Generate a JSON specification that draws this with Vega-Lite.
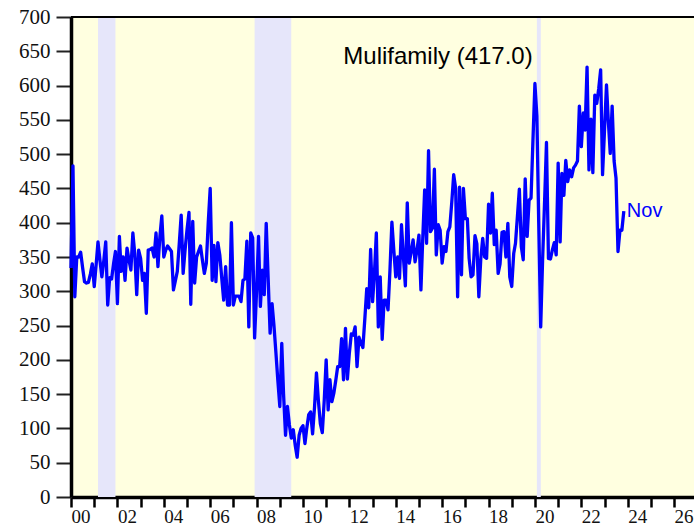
{
  "$schema": "https://vega.github.io/schema/vega-lite/v6.json",
  "width": 623,
  "height": 480,
  "autosize": {"type": "none"},
  "padding": {"left": 71, "top": 17, "right": 0, "bottom": 32},
  "background": "white",
  "config": {
    "view": {"fill": "#FFFFE0", "stroke": null},
    "axisX": {
      "grid": false, "domainColor": "#000000", "domainWidth": 3.5,
      "tickColor": "#000000", "tickWidth": 2.5, "tickSize": 10,
      "labelFont": "Liberation Serif", "labelFontSize": 19, "labelColor": "#111111",
      "labelAlign": "left", "labelBaseline": "top", "labelPadding": 0, "labelOffset": 0,
      "labelOverlap": false, "labelFlush": false, "labelBound": false
    },
    "axisY": {
      "grid": false, "domainColor": "#000000", "domainWidth": 3.5,
      "tickColor": "#222222", "tickWidth": 2, "tickSize": 15,
      "labelFont": "Liberation Serif", "labelFontSize": 21, "labelColor": "#111111",
      "labelPadding": 6, "labelOverlap": false, "labelFlush": false, "labelBound": false
    }
  },
  "datasets": {
    "rec": [
      {"s": "2001-03-01", "e": "2001-12-01"},
      {"s": "2007-12-01", "e": "2009-06-30"},
      {"s": "2020-02-01", "e": "2020-04-03"}
    ],
    "starts": [
      {"d":"2000-01-01","v":334},{"d":"2000-02-01","v":483},{"d":"2000-03-01","v":292},{"d":"2000-04-01","v":350},{"d":"2000-05-01","v":350},{"d":"2000-06-01","v":357},{"d":"2000-07-01","v":335},{"d":"2000-08-01","v":314},{"d":"2000-09-01","v":312},{"d":"2000-10-01","v":313},{"d":"2000-11-01","v":325},{"d":"2000-12-01","v":340},
      {"d":"2001-01-01","v":307},{"d":"2001-02-01","v":340},{"d":"2001-03-01","v":372},{"d":"2001-04-01","v":345},{"d":"2001-05-01","v":321},{"d":"2001-06-01","v":345},{"d":"2001-07-01","v":372},{"d":"2001-08-01","v":280},{"d":"2001-09-01","v":320},{"d":"2001-10-01","v":318},{"d":"2001-11-01","v":340},{"d":"2001-12-01","v":358},
      {"d":"2002-01-01","v":282},{"d":"2002-02-01","v":380},{"d":"2002-03-01","v":329},{"d":"2002-04-01","v":350},{"d":"2002-05-01","v":316},{"d":"2002-06-01","v":363},{"d":"2002-07-01","v":346},{"d":"2002-08-01","v":331},{"d":"2002-09-01","v":385},{"d":"2002-10-01","v":355},{"d":"2002-11-01","v":295},{"d":"2002-12-01","v":360},
      {"d":"2003-01-01","v":348},{"d":"2003-02-01","v":316},{"d":"2003-03-01","v":326},{"d":"2003-04-01","v":268},{"d":"2003-05-01","v":360},{"d":"2003-06-01","v":361},{"d":"2003-07-01","v":363},{"d":"2003-08-01","v":350},{"d":"2003-09-01","v":385},{"d":"2003-10-01","v":336},{"d":"2003-11-01","v":380},{"d":"2003-12-01","v":410},
      {"d":"2004-01-01","v":350},{"d":"2004-02-01","v":360},{"d":"2004-03-01","v":366},{"d":"2004-04-01","v":362},{"d":"2004-05-01","v":358},{"d":"2004-06-01","v":302},{"d":"2004-07-01","v":315},{"d":"2004-08-01","v":329},{"d":"2004-09-01","v":370},{"d":"2004-10-01","v":411},{"d":"2004-11-01","v":326},{"d":"2004-12-01","v":360},
      {"d":"2005-01-01","v":390},{"d":"2005-02-01","v":415},{"d":"2005-03-01","v":281},{"d":"2005-04-01","v":402},{"d":"2005-05-01","v":312},{"d":"2005-06-01","v":350},{"d":"2005-07-01","v":358},{"d":"2005-08-01","v":366},{"d":"2005-09-01","v":345},{"d":"2005-10-01","v":326},{"d":"2005-11-01","v":341},{"d":"2005-12-01","v":400},
      {"d":"2006-01-01","v":450},{"d":"2006-02-01","v":316},{"d":"2006-03-01","v":367},{"d":"2006-04-01","v":314},{"d":"2006-05-01","v":371},{"d":"2006-06-01","v":353},{"d":"2006-07-01","v":320},{"d":"2006-08-01","v":287},{"d":"2006-09-01","v":336},{"d":"2006-10-01","v":280},{"d":"2006-11-01","v":280},{"d":"2006-12-01","v":400},
      {"d":"2007-01-01","v":280},{"d":"2007-02-01","v":293},{"d":"2007-03-01","v":293},{"d":"2007-04-01","v":293},{"d":"2007-05-01","v":285},{"d":"2007-06-01","v":316},{"d":"2007-07-01","v":318},{"d":"2007-08-01","v":373},{"d":"2007-09-01","v":248},{"d":"2007-10-01","v":385},{"d":"2007-11-01","v":378},{"d":"2007-12-01","v":232},
      {"d":"2008-01-01","v":300},{"d":"2008-02-01","v":380},{"d":"2008-03-01","v":278},{"d":"2008-04-01","v":331},{"d":"2008-05-01","v":295},{"d":"2008-06-01","v":399},{"d":"2008-07-01","v":320},{"d":"2008-08-01","v":239},{"d":"2008-09-01","v":282},{"d":"2008-10-01","v":250},{"d":"2008-11-01","v":210},{"d":"2008-12-01","v":170},
      {"d":"2009-01-01","v":132},{"d":"2009-02-01","v":224},{"d":"2009-03-01","v":150},{"d":"2009-04-01","v":90},{"d":"2009-05-01","v":132},{"d":"2009-06-01","v":105},{"d":"2009-07-01","v":86},{"d":"2009-08-01","v":98},{"d":"2009-09-01","v":75},{"d":"2009-10-01","v":58},{"d":"2009-11-01","v":90},{"d":"2009-12-01","v":100},
      {"d":"2010-01-01","v":104},{"d":"2010-02-01","v":78},{"d":"2010-03-01","v":100},{"d":"2010-04-01","v":120},{"d":"2010-05-01","v":124},{"d":"2010-06-01","v":92},{"d":"2010-07-01","v":130},{"d":"2010-08-01","v":181},{"d":"2010-09-01","v":140},{"d":"2010-10-01","v":107},{"d":"2010-11-01","v":94},{"d":"2010-12-01","v":140},
      {"d":"2011-01-01","v":200},{"d":"2011-02-01","v":127},{"d":"2011-03-01","v":171},{"d":"2011-04-01","v":139},{"d":"2011-05-01","v":151},{"d":"2011-06-01","v":170},{"d":"2011-07-01","v":190},{"d":"2011-08-01","v":190},{"d":"2011-09-01","v":231},{"d":"2011-10-01","v":171},{"d":"2011-11-01","v":246},{"d":"2011-12-01","v":172},
      {"d":"2012-01-01","v":210},{"d":"2012-02-01","v":238},{"d":"2012-03-01","v":236},{"d":"2012-04-01","v":248},{"d":"2012-05-01","v":190},{"d":"2012-06-01","v":233},{"d":"2012-07-01","v":225},{"d":"2012-08-01","v":218},{"d":"2012-09-01","v":260},{"d":"2012-10-01","v":304},{"d":"2012-11-01","v":276},{"d":"2012-12-01","v":361},
      {"d":"2013-01-01","v":285},{"d":"2013-02-01","v":330},{"d":"2013-03-01","v":385},{"d":"2013-04-01","v":248},{"d":"2013-05-01","v":321},{"d":"2013-06-01","v":230},{"d":"2013-07-01","v":287},{"d":"2013-08-01","v":287},{"d":"2013-09-01","v":273},{"d":"2013-10-01","v":330},{"d":"2013-11-01","v":401},{"d":"2013-12-01","v":360},
      {"d":"2014-01-01","v":321},{"d":"2014-02-01","v":350},{"d":"2014-03-01","v":319},{"d":"2014-04-01","v":397},{"d":"2014-05-01","v":350},{"d":"2014-06-01","v":308},{"d":"2014-07-01","v":429},{"d":"2014-08-01","v":341},{"d":"2014-09-01","v":358},{"d":"2014-10-01","v":375},{"d":"2014-11-01","v":343},{"d":"2014-12-01","v":360},
      {"d":"2015-01-01","v":382},{"d":"2015-02-01","v":302},{"d":"2015-03-01","v":375},{"d":"2015-04-01","v":448},{"d":"2015-05-01","v":370},{"d":"2015-06-01","v":505},{"d":"2015-07-01","v":387},{"d":"2015-08-01","v":392},{"d":"2015-09-01","v":478},{"d":"2015-10-01","v":353},{"d":"2015-11-01","v":397},{"d":"2015-12-01","v":389},
      {"d":"2016-01-01","v":341},{"d":"2016-02-01","v":365},{"d":"2016-03-01","v":358},{"d":"2016-04-01","v":387},{"d":"2016-05-01","v":394},{"d":"2016-06-01","v":430},{"d":"2016-07-01","v":470},{"d":"2016-08-01","v":450},{"d":"2016-09-01","v":292},{"d":"2016-10-01","v":452},{"d":"2016-11-01","v":324},{"d":"2016-12-01","v":450},
      {"d":"2017-01-01","v":406},{"d":"2017-02-01","v":406},{"d":"2017-03-01","v":348},{"d":"2017-04-01","v":321},{"d":"2017-05-01","v":324},{"d":"2017-06-01","v":381},{"d":"2017-07-01","v":369},{"d":"2017-08-01","v":292},{"d":"2017-09-01","v":348},{"d":"2017-10-01","v":377},{"d":"2017-11-01","v":350},{"d":"2017-12-01","v":348},
      {"d":"2018-01-01","v":427},{"d":"2018-02-01","v":385},{"d":"2018-03-01","v":443},{"d":"2018-04-01","v":368},{"d":"2018-05-01","v":389},{"d":"2018-06-01","v":326},{"d":"2018-07-01","v":340},{"d":"2018-08-01","v":386},{"d":"2018-09-01","v":387},{"d":"2018-10-01","v":350},{"d":"2018-11-01","v":399},{"d":"2018-12-01","v":321},
      {"d":"2019-01-01","v":307},{"d":"2019-02-01","v":355},{"d":"2019-03-01","v":370},{"d":"2019-04-01","v":410},{"d":"2019-05-01","v":449},{"d":"2019-06-01","v":365},{"d":"2019-07-01","v":346},{"d":"2019-08-01","v":464},{"d":"2019-09-01","v":380},{"d":"2019-10-01","v":433},{"d":"2019-11-01","v":436},{"d":"2019-12-01","v":520},
      {"d":"2020-01-01","v":603},{"d":"2020-02-01","v":555},{"d":"2020-03-01","v":400},{"d":"2020-04-01","v":248},{"d":"2020-05-01","v":346},{"d":"2020-06-01","v":430},{"d":"2020-07-01","v":517},{"d":"2020-08-01","v":348},{"d":"2020-09-01","v":347},{"d":"2020-10-01","v":360},{"d":"2020-11-01","v":371},{"d":"2020-12-01","v":353},
      {"d":"2021-01-01","v":487},{"d":"2021-02-01","v":372},{"d":"2021-03-01","v":472},{"d":"2021-04-01","v":440},{"d":"2021-05-01","v":491},{"d":"2021-06-01","v":460},{"d":"2021-07-01","v":477},{"d":"2021-08-01","v":467},{"d":"2021-09-01","v":480},{"d":"2021-10-01","v":484},{"d":"2021-11-01","v":490},{"d":"2021-12-01","v":570},
      {"d":"2022-01-01","v":511},{"d":"2022-02-01","v":560},{"d":"2022-03-01","v":535},{"d":"2022-04-01","v":627},{"d":"2022-05-01","v":477},{"d":"2022-06-01","v":551},{"d":"2022-07-01","v":473},{"d":"2022-08-01","v":586},{"d":"2022-09-01","v":574},{"d":"2022-10-01","v":595},{"d":"2022-11-01","v":623},{"d":"2022-12-01","v":470},
      {"d":"2023-01-01","v":535},{"d":"2023-02-01","v":601},{"d":"2023-03-01","v":550},{"d":"2023-04-01","v":501},{"d":"2023-05-01","v":570},{"d":"2023-06-01","v":490},{"d":"2023-07-01","v":465},{"d":"2023-08-01","v":358},{"d":"2023-09-01","v":389},{"d":"2023-10-01","v":389},{"d":"2023-11-01","v":417}
    ]
  },
  "layer": [
    {
      "data": {"name": "rec"},
      "mark": {"type": "rect", "color": "#E6E6FA"},
      "encoding": {
        "x": {"field": "s", "type": "temporal",
          "scale": {"type": "utc", "domain": [{"year": 2000, "month": 1, "date": 1, "utc": true}, {"year": 2026, "month": 11, "date": 10, "utc": true}]},
          "axis": {"title": null, "tickCount": {"interval": "year", "step": 1}, "labelExpr": "utcyear(datum.value) % 2 === 0 ? utcFormat(datum.value, '%y') : ''"}},
        "x2": {"field": "e"},
        "y": {"datum": 0, "type": "quantitative",
          "scale": {"domain": [0, 700], "nice": false},
          "axis": {"title": null, "values": [0, 50, 100, 150, 200, 250, 300, 350, 400, 450, 500, 550, 600, 650, 700]}},
        "y2": {"datum": 700}
      }
    },
    {
      "data": {"name": "starts"},
      "mark": {"type": "line", "color": "#0000FF", "strokeWidth": 3.3, "strokeJoin": "round"},
      "encoding": {
        "x": {"field": "d", "type": "temporal",
          "axis": {"title": null, "tickCount": {"interval": "year", "step": 1}, "labelExpr": "utcyear(datum.value) % 2 === 0 ? utcFormat(datum.value, '%y') : ''"}},
        "y": {"field": "v", "type": "quantitative",
          "axis": {"title": null, "values": [0, 50, 100, 150, 200, 250, 300, 350, 400, 450, 500, 550, 600, 650, 700]}}
      }
    },
    {
      "data": {"values": [{}]},
      "mark": {"type": "rule", "color": "#000000", "strokeWidth": 2},
      "encoding": {"y": {"datum": 700, "type": "quantitative",
        "axis": {"title": null, "values": [0, 50, 100, 150, 200, 250, 300, 350, 400, 450, 500, 550, 600, 650, 700]}}}
    },
    {
      "data": {"name": "starts"},
      "transform": [{"filter": "utcyear(datum.d) === 2023 && utcmonth(datum.d) === 10"}],
      "mark": {"type": "text", "text": "Nov", "align": "left", "baseline": "middle", "dx": 3, "font": "Liberation Sans", "fontSize": 20, "color": "#0000FF"},
      "encoding": {
        "x": {"field": "d", "type": "temporal",
          "axis": {"title": null, "tickCount": {"interval": "year", "step": 1}, "labelExpr": "utcyear(datum.value) % 2 === 0 ? utcFormat(datum.value, '%y') : ''"}},
        "y": {"field": "v", "type": "quantitative",
          "axis": {"title": null, "values": [0, 50, 100, 150, 200, 250, 300, 350, 400, 450, 500, 550, 600, 650, 700]}}
      }
    },
    {
      "data": {"values": [{}]},
      "mark": {"type": "text", "text": "Mulifamily (417.0)", "align": "center", "baseline": "alphabetic", "font": "Liberation Sans", "fontSize": 24, "color": "#000000"},
      "encoding": {
        "x": {"datum": {"year": 2015, "month": 10, "date": 28, "utc": true}, "type": "temporal",
          "axis": {"title": null, "tickCount": {"interval": "year", "step": 1}, "labelExpr": "utcyear(datum.value) % 2 === 0 ? utcFormat(datum.value, '%y') : ''"}},
        "y": {"datum": 632, "type": "quantitative",
          "axis": {"title": null, "values": [0, 50, 100, 150, 200, 250, 300, 350, 400, 450, 500, 550, 600, 650, 700]}}
      }
    }
  ]
}
